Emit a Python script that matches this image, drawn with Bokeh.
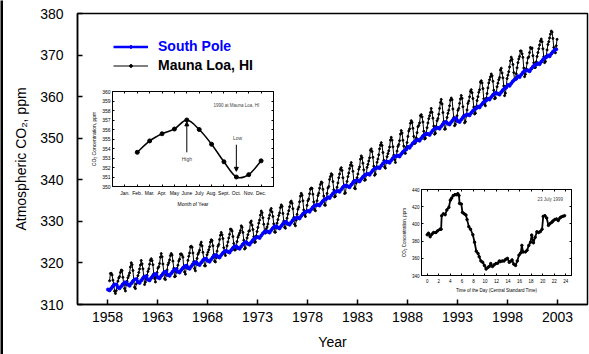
from bokeh.plotting import figure
from bokeh.models import (Range1d, FixedTicker, LinearAxis, Legend, LegendItem,
                          Arrow, NormalHead, Label, CustomJSTickFormatter)
from bokeh.layouts import column, row
from bokeh.embed import file_html
from bokeh.resources import INLINE

FONT = "Liberation Sans"

# ---------------- main chart data ----------------
year_ticks = [1958, 1963, 1968, 1973, 1978, 1983, 1988, 1993, 1998, 2003]
ppm_ticks = [310, 320, 330, 340, 350, 360, 370, 380]

# Mauna Loa monthly record, starting March 1958, ending December 2002
ml_start_year = 1958
ml_start_month = 3
mauna_loa_ppm = [
    315.71, 317.45, 317.50, 317.10, 315.86, 314.93, 313.20, 312.66, 313.33, 314.67,
    315.62, 316.38, 316.71, 317.72, 318.29, 318.15, 316.54, 314.80, 313.84, 313.26, 314.80, 315.58,
    316.43, 316.97, 317.58, 319.02, 320.03, 319.59, 318.18, 315.91, 314.16, 313.83, 315.00, 316.19,
    316.93, 317.70, 318.54, 319.48, 320.58, 319.77, 318.57, 316.79, 314.80, 315.38, 316.10, 317.01,
    317.94, 318.56, 319.68, 320.63, 321.01, 320.55, 319.58, 317.40, 316.25, 315.42, 316.69, 317.69,
    318.74, 319.08, 319.86, 321.39, 322.25, 321.47, 319.74, 317.77, 316.21, 315.99, 317.12, 318.31,
    319.57, 320.07, 320.73, 321.77, 322.25, 321.89, 320.44, 318.70, 316.70, 316.79, 317.79, 318.71,
    319.44, 320.44, 320.89, 322.13, 322.16, 321.87, 321.39, 318.81, 317.81, 317.30, 318.87, 319.42,
    320.62, 321.59, 322.39, 323.87, 324.01, 323.75, 322.39, 320.37, 318.64, 318.10, 319.79, 321.08,
    322.07, 322.50, 323.04, 324.42, 325.00, 324.09, 322.55, 320.92, 319.31, 319.31, 320.72, 321.96,
    322.57, 323.15, 323.89, 325.02, 325.57, 325.36, 324.14, 322.03, 320.41, 320.25, 321.31, 322.84,
    324.00, 324.42, 325.64, 326.66, 327.34, 326.76, 325.88, 323.67, 322.38, 321.78, 322.85, 324.11,
    325.03, 325.99, 326.87, 328.13, 328.07, 327.66, 326.35, 324.69, 323.10, 323.16, 323.98, 325.13,
    326.17, 326.68, 327.18, 327.78, 328.92, 328.57, 327.34, 325.46, 323.36, 323.57, 324.80, 326.01,
    326.77, 327.63, 327.75, 329.72, 330.07, 329.09, 328.05, 326.32, 324.93, 325.06, 326.50, 327.55,
    328.54, 329.56, 330.30, 331.50, 332.48, 332.07, 330.87, 329.31, 327.51, 327.18, 328.16, 328.64,
    329.35, 330.71, 331.48, 332.65, 333.09, 332.25, 331.18, 329.40, 327.43, 327.37, 328.46, 329.57,
    330.40, 331.40, 332.04, 333.31, 333.96, 333.59, 331.91, 330.06, 328.56, 328.34, 329.49, 330.76,
    331.75, 332.56, 333.50, 334.58, 334.87, 334.34, 333.05, 330.94, 329.30, 328.94, 330.31, 331.68,
    332.93, 333.42, 334.70, 336.07, 336.74, 336.27, 334.93, 332.75, 331.58, 331.16, 332.40, 333.85,
    334.97, 335.38, 336.64, 337.76, 338.01, 337.89, 336.54, 334.68, 332.76, 332.55, 333.92, 334.95,
    336.23, 336.76, 337.96, 338.88, 339.47, 339.29, 337.73, 336.09, 333.92, 333.86, 335.29, 336.73,
    338.01, 338.36, 340.08, 340.77, 341.46, 341.17, 339.56, 337.60, 335.88, 336.02, 337.10, 338.21,
    339.24, 340.48, 341.38, 342.51, 342.91, 342.25, 340.49, 338.43, 336.69, 336.85, 338.36, 339.61,
    340.75, 341.61, 342.70, 343.56, 344.13, 343.35, 342.06, 339.82, 337.97, 337.86, 339.26, 340.49,
    341.38, 342.52, 343.10, 344.94, 345.75, 345.32, 343.99, 342.39, 339.86, 339.99, 341.16, 342.99,
    343.70, 344.51, 345.28, 347.08, 347.43, 346.79, 345.40, 343.28, 341.07, 341.35, 342.98, 344.22,
    344.97, 346.00, 347.43, 348.35, 348.93, 348.25, 346.56, 344.67, 343.09, 342.80, 344.24, 345.56,
    346.29, 346.96, 347.86, 349.55, 350.21, 349.54, 347.94, 345.91, 344.86, 344.17, 345.66, 346.90,
    348.02, 348.47, 349.42, 350.99, 351.84, 351.25, 349.52, 348.10, 346.44, 346.36, 347.81, 348.96,
    350.43, 351.72, 352.22, 353.59, 354.22, 353.79, 352.39, 350.44, 348.72, 348.88, 350.07, 351.34,
    352.76, 353.07, 353.68, 355.42, 355.67, 355.13, 353.90, 351.67, 349.80, 349.99, 351.30, 352.53,
    353.66, 354.70, 355.39, 356.20, 357.16, 356.22, 354.82, 352.91, 350.96, 351.18, 352.83, 354.21,
    354.72, 355.75, 357.16, 358.60, 359.34, 358.24, 356.17, 354.03, 352.16, 352.21, 353.75, 354.99,
    355.98, 356.72, 357.81, 359.15, 359.66, 359.25, 357.03, 355.00, 353.01, 353.31, 354.16, 355.40,
    356.70, 357.16, 358.38, 359.46, 360.28, 359.60, 357.57, 355.52, 353.70, 353.98, 355.33, 356.80,
    358.36, 358.91, 359.97, 361.26, 361.68, 360.95, 359.55, 357.49, 355.84, 356.00, 357.59, 359.05,
    359.98, 361.03, 361.66, 363.48, 363.82, 363.30, 361.94, 359.50, 358.11, 357.80, 359.61, 360.74,
    362.09, 363.29, 364.06, 364.76, 365.45, 365.01, 363.70, 361.54, 359.51, 359.65, 360.80, 362.38,
    363.23, 364.06, 364.61, 366.40, 366.84, 365.68, 364.52, 362.57, 360.24, 360.83, 362.49, 364.34,
    365.17, 365.98, 367.13, 368.61, 369.49, 368.95, 367.74, 365.79, 364.01, 364.35, 365.52, 366.93,
    368.18, 369.07, 369.68, 370.99, 370.96, 370.30, 369.45, 366.90, 364.81, 365.37, 366.72, 368.10,
    369.29, 369.55, 370.60, 371.82, 371.58, 371.70, 369.86, 368.13, 367.00, 367.03, 368.37, 369.67,
    370.59, 371.51, 372.43, 373.37, 373.85, 373.21, 371.51, 369.61, 368.18, 368.45, 369.76, 371.24,
    372.53, 373.20, 374.12, 375.02, 375.76, 375.52, 374.01, 371.85, 370.75, 370.55, 372.25, 373.79,
]

# South Pole, bimonthly samples (Jan, Mar, May, Jul, Sep, Nov) 1958-2002
sp_years = list(range(1958, 2003))
sp_months = [1, 3, 5, 7, 9, 11]
south_pole_ppm = [
    313.6, 313.4, 313.9, 314.4, 314.8, 314.8,
    314.1, 313.9, 314.4, 314.9, 315.3, 315.3,
    314.8, 314.5, 315.1, 315.6, 316.0, 316.1,
    315.4, 315.2, 315.8, 316.3, 316.7, 316.8,
    316.0, 315.8, 316.4, 316.9, 317.3, 317.3,
    316.5, 316.3, 316.9, 317.4, 317.8, 317.9,
    317.1, 316.9, 317.5, 318.0, 318.4, 318.5,
    317.9, 317.7, 318.3, 318.8, 319.2, 319.3,
    318.8, 318.6, 319.2, 319.7, 320.1, 320.2,
    319.7, 319.5, 320.1, 320.6, 321.0, 321.0,
    320.5, 320.3, 320.9, 321.4, 321.8, 321.9,
    321.5, 321.3, 321.9, 322.4, 322.8, 322.9,
    322.7, 322.5, 323.1, 323.6, 324.0, 324.0,
    323.6, 323.4, 324.0, 324.5, 324.9, 325.0,
    324.6, 324.4, 325.0, 325.5, 325.9, 326.1,
    326.2, 326.0, 326.6, 327.1, 327.5, 327.6,
    327.5, 327.3, 327.9, 328.4, 328.8, 328.8,
    328.5, 328.3, 328.9, 329.4, 329.8, 329.9,
    329.4, 329.2, 329.8, 330.3, 330.7, 330.8,
    330.9, 330.7, 331.3, 331.8, 332.2, 332.3,
    332.5, 332.3, 332.9, 333.4, 333.8, 333.9,
    334.0, 333.8, 334.4, 334.9, 335.3, 335.4,
    335.8, 335.6, 336.2, 336.7, 337.1, 337.2,
    337.3, 337.1, 337.7, 338.2, 338.6, 338.6,
    338.4, 338.2, 338.8, 339.3, 339.7, 339.8,
    339.8, 339.6, 340.2, 340.7, 341.1, 341.3,
    341.4, 341.2, 341.8, 342.3, 342.7, 342.8,
    343.0, 342.8, 343.4, 343.9, 344.3, 344.4,
    344.3, 344.1, 344.7, 345.2, 345.6, 345.7,
    345.8, 345.6, 346.2, 346.7, 347.1, 347.3,
    347.9, 347.7, 348.3, 348.8, 349.2, 349.4,
    349.6, 349.4, 350.0, 350.5, 350.9, 351.0,
    351.0, 350.8, 351.4, 351.9, 352.3, 352.4,
    352.5, 352.3, 352.9, 353.4, 353.8, 353.9,
    353.5, 353.3, 353.9, 354.4, 354.8, 354.8,
    354.1, 353.9, 354.5, 355.0, 355.4, 355.6,
    355.7, 355.5, 356.1, 356.6, 357.0, 357.2,
    357.6, 357.4, 358.0, 358.5, 358.9, 359.1,
    359.5, 359.3, 359.9, 360.4, 360.8, 360.9,
    360.7, 360.5, 361.1, 361.6, 362.0, 362.2,
    362.8, 362.6, 363.2, 363.7, 364.1, 364.3,
    364.9, 364.7, 365.3, 365.8, 366.2, 366.3,
    366.3, 366.1, 366.7, 367.2, 367.6, 367.7,
    368.0, 367.8, 368.4, 368.9, 369.3, 369.5,
    369.9, 369.7, 370.3, 370.8, 371.2, 371.4,
]

# ---------------- inset 1: 1990 at Mauna Loa ----------------
month_ticks = list(range(1, 13))
month_names = ["Jan.", "Feb.", "Mar.", "Apr.", "May", "June", "July",
               "Aug.", "Sept.", "Oct.", "Nov.", "Dec."]
ml1990_month = [2, 3, 4, 5, 6, 7, 8, 9, 10, 11, 12]
ml1990_ppm = [353.6, 354.8, 355.55, 356.05, 357.0, 356.0, 354.45, 352.6, 351.0, 351.25, 352.7]
inset1_ticks = list(range(350, 361))

# ---------------- inset 2: 23 July 1999 diurnal ----------------
hour_ticks = list(range(0, 25, 2))
diurnal_ticks = [340, 360, 380, 400, 420, 440]
diurnal_hour = [0.0, 0.2, 0.5, 0.8, 1.1, 1.5, 1.8, 2.2, 2.4, 2.5,
                2.8, 3.1, 3.4, 3.75, 4.0, 4.2, 4.5, 4.8, 5.1, 5.3,
                5.5, 5.6, 5.9, 6.1, 6.4, 6.7, 6.9, 7.2, 7.5, 7.9,
                8.2, 8.5, 8.8, 9.0, 9.3, 9.6, 9.9, 10.2, 10.5, 10.75,
                11.0, 11.3, 11.6, 11.9, 12.2, 12.5, 12.7, 13.0, 13.3, 13.6,
                13.9, 14.2, 14.4, 14.7, 15.0, 15.3, 15.6, 15.9, 16.2, 16.4,
                16.6, 17.0, 17.3, 17.6, 17.9, 18.1, 18.4, 18.7, 19.0, 19.3,
                19.6, 19.9, 20.1, 20.4, 20.7, 21.0, 21.3, 21.6, 21.8, 22.1,
                22.4, 22.7, 23.0, 23.2, 23.5, 23.8]
diurnal_ppm = [387.4, 389.2, 385.1, 388.1, 390.0, 390.0, 391.9, 393.8, 393.8, 409.5,
               411.8, 410.7, 416.3, 419.3, 427.6, 429.8, 432.9, 434.0, 434.0, 435.1,
               432.9, 423.8, 423.1, 413.3, 411.8, 410.3, 405.0, 396.8, 393.8, 387.4,
               378.7, 368.2, 365.6, 361.8, 356.9, 355.4, 351.7, 347.5, 349.4, 350.5,
               353.9, 350.5, 352.4, 353.9, 354.3, 356.9, 356.2, 356.9, 356.9, 358.8,
               359.9, 355.4, 356.2, 358.1, 353.2, 351.7, 356.9, 363.7, 366.3, 375.0,
               367.4, 367.4, 369.3, 375.0, 378.7, 387.0, 378.0, 384.4, 390.8, 390.0,
               391.1, 393.8, 408.8, 409.5, 406.9, 398.3, 400.5, 402.0, 403.5, 405.0,
               405.8, 403.9, 406.9, 408.0, 408.8, 409.5]

# ---------------- derived x positions ----------------
ml_x = [ml_start_year + (ml_start_month - 1 + i + 0.5) / 12.0 for i in range(len(mauna_loa_ppm))]
sp_x = [y + (m - 0.5) / 12.0 for y in sp_years for m in sp_months]

blank = CustomJSTickFormatter(code="return ''")


def style_axis(ax, size, tick_len, standoff, label_standoff, width=1):
    ax.major_tick_in = tick_len
    ax.major_tick_out = 0
    ax.minor_tick_in = 0
    ax.minor_tick_out = 0
    ax.axis_line_color = "black"
    ax.axis_line_alpha = 1
    ax.axis_line_width = width
    ax.major_tick_line_color = "black"
    ax.major_tick_line_width = width
    ax.major_label_text_font = FONT
    ax.major_label_text_font_size = size
    ax.major_label_text_color = "black"
    ax.major_label_standoff = standoff
    ax.axis_label_text_font = FONT
    ax.axis_label_text_font_size = size
    ax.axis_label_text_font_style = "normal"
    ax.axis_label_text_color = "black"
    ax.axis_label_standoff = label_standoff


def add_mirror(fig, ticks, size, tick_len):
    top = LinearAxis(ticker=FixedTicker(ticks=ticks[0]), formatter=blank)
    right = LinearAxis(ticker=FixedTicker(ticks=ticks[1]), formatter=blank)
    for ax in (top, right):
        style_axis(ax, size, tick_len, 0, 0)
    fig.add_layout(top, "above")
    fig.add_layout(right, "right")


# ---------------- main figure ----------------
p = figure(width=589, height=354, x_range=Range1d(1955, 2006), y_range=Range1d(310, 380),
           output_backend="svg", toolbar_location=None,
           min_border_left=77, min_border_right=2, min_border_top=13, min_border_bottom=50)
p.grid.visible = False
p.outline_line_color = "black"
p.outline_line_alpha = 1
p.outline_line_width = 1.5
p.xaxis[0].ticker = FixedTicker(ticks=year_ticks)
p.yaxis[0].ticker = FixedTicker(ticks=ppm_ticks)
style_axis(p.xaxis[0], "14px", 5, 7, 9, 1.5)
style_axis(p.yaxis[0], "14px", 5, 14, 8, 1.5)
p.xaxis[0].axis_label = "Year"
p.yaxis[0].axis_label = "Atmospheric CO\u2082, ppm"

ml_line = p.line(ml_x, mauna_loa_ppm, line_color="black", line_width=1)
ml_pts = p.scatter(ml_x, mauna_loa_ppm, size=2, fill_color="black", line_color="black")
sp_line = p.line(sp_x, south_pole_ppm, line_color="#0000ff", line_width=2.5)
sp_pts = p.scatter(sp_x, south_pole_ppm, size=3, fill_color="#0000ff", line_color="#0000ff")


def make_legend(label, renderers, color, loc):
    return Legend(items=[LegendItem(label=label, renderers=renderers)], location=loc,
                  label_text_font=FONT, label_text_font_style="bold", label_text_font_size="14px",
                  label_text_color=color, glyph_width=35, glyph_height=7, label_height=18,
                  label_standoff=10, padding=0, margin=0, spacing=0,
                  border_line_alpha=0, background_fill_alpha=0)


p.add_layout(make_legend("South Pole", [sp_line, sp_pts], "#0000ff", (36, 249)))
p.add_layout(make_legend("Mauna Loa, HI", [ml_line, ml_pts], "black", (36, 230)))

# thin black frame strip along the left edge of the picture
bar = figure(width=3, height=354, x_axis_type=None, y_axis_type=None,
             output_backend="svg", toolbar_location=None, min_border=0,
             background_fill_color="black", border_fill_color="black", outline_line_alpha=0)
bar.grid.visible = False

# ---------------- inset 1 ----------------
f1 = figure(width=189, height=123, x_range=Range1d(0, 13), y_range=Range1d(350, 360),
            output_backend="svg", toolbar_location=None,
            min_border_left=24, min_border_right=4, min_border_top=5, min_border_bottom=20)
f1.grid.visible = False
f1.outline_line_color = "black"
f1.outline_line_alpha = 1
f1.border_fill_alpha = 0
f1.xaxis[0].ticker = FixedTicker(ticks=month_ticks)
f1.xaxis[0].major_label_overrides = {m: n for m, n in zip(month_ticks, month_names)}
f1.yaxis[0].ticker = FixedTicker(ticks=inset1_ticks)
style_axis(f1.xaxis[0], "5px", 2, 3, 2)
style_axis(f1.yaxis[0], "5px", 2, 2, 2)
f1.xaxis[0].axis_label = "Month of Year"
f1.yaxis[0].axis_label = "CO\u2082 Concentration, ppm"
add_mirror(f1, (month_ticks, inset1_ticks), "5px", 2)

# smooth curve through the monthly points (Catmull-Rom as cubic Bezier segments)
n = len(ml1990_month)
bx0, by0, bx1, by1, bcx0, bcy0, bcx1, bcy1 = [], [], [], [], [], [], [], []
for i in range(n - 1):
    xm, ym = ml1990_month[max(i - 1, 0)], ml1990_ppm[max(i - 1, 0)]
    xa, ya = ml1990_month[i], ml1990_ppm[i]
    xb, yb = ml1990_month[i + 1], ml1990_ppm[i + 1]
    xp, yp = ml1990_month[min(i + 2, n - 1)], ml1990_ppm[min(i + 2, n - 1)]
    bx0.append(xa); by0.append(ya); bx1.append(xb); by1.append(yb)
    bcx0.append(xa + (xb - xm) / 6.0); bcy0.append(ya + (yb - ym) / 6.0)
    bcx1.append(xb - (xp - xa) / 6.0); bcy1.append(yb - (yp - ya) / 6.0)
f1.bezier(x0=bx0, y0=by0, x1=bx1, y1=by1, cx0=bcx0, cy0=bcy0, cx1=bcx1, cy1=bcy1,
          line_color="black", line_width=1.5)
f1.scatter(ml1990_month, ml1990_ppm, size=4, fill_color="black", line_color="black")

high_month, high_from, high_to = 6, 353.6, 356.8
low_month, low_from, low_to = 10, 354.4, 351.6
f1.add_layout(Arrow(end=NormalHead(size=4, fill_color="black", line_color="black"),
                    x_start=high_month, y_start=high_from, x_end=high_month, y_end=high_to,
                    line_color="black", line_width=1))
f1.add_layout(Arrow(end=NormalHead(size=4, fill_color="black", line_color="black"),
                    x_start=low_month, y_start=low_from, x_end=low_month, y_end=low_to,
                    line_color="black", line_width=1))
f1.add_layout(Label(x=high_month, y=352.9, text="High", text_font=FONT, text_font_size="5px",
                    text_align="center", text_baseline="middle"))
f1.add_layout(Label(x=low_month + 0.1, y=355.1, text="Low", text_font=FONT, text_font_size="5px",
                    text_align="center", text_baseline="middle"))
f1.add_layout(Label(x=8.15, y=358.55, text="1990 at Mauna Loa, HI", text_font=FONT,
                    text_font_size="4.5px", text_align="left", text_baseline="middle"))

# ---------------- inset 2 ----------------
f2 = figure(width=177, height=111, x_range=Range1d(-1, 25), y_range=Range1d(340, 440),
            output_backend="svg", toolbar_location=None,
            min_border_left=19, min_border_right=4, min_border_top=5, min_border_bottom=18)
f2.grid.visible = False
f2.outline_line_color = "black"
f2.outline_line_alpha = 1
f2.border_fill_alpha = 0
f2.xaxis[0].ticker = FixedTicker(ticks=hour_ticks)
f2.yaxis[0].ticker = FixedTicker(ticks=diurnal_ticks)
style_axis(f2.xaxis[0], "4.5px", 2, 3, 2)
style_axis(f2.yaxis[0], "4.5px", 2, 2, 2)
f2.xaxis[0].axis_label = "Time of the Day (Central Standard Time)"
f2.yaxis[0].axis_label = "CO\u2082 Concentration, ppm"
add_mirror(f2, (hour_ticks, diurnal_ticks), "4.5px", 2)
f2.line(diurnal_hour, diurnal_ppm, line_color="black", line_width=1.8)
f2.scatter(diurnal_hour, diurnal_ppm, size=2.5, fill_color="black", line_color="black")
f2.add_layout(Label(x=21.3, y=428.4, text="23 July 1999", text_font=FONT, text_font_size="4.5px",
                    text_align="center", text_baseline="middle"))

box_bar = row(bar, styles={"position": "absolute", "left": "0px", "top": "0px"})
box1 = row(f1, styles={"position": "absolute", "left": "88px", "top": "86px"})
box2 = row(f2, styles={"position": "absolute", "left": "398px", "top": "184px"})
root = column(row(p), box_bar, box1, box2, spacing=0)
open("out.html", "w").write(file_html(root, INLINE))
